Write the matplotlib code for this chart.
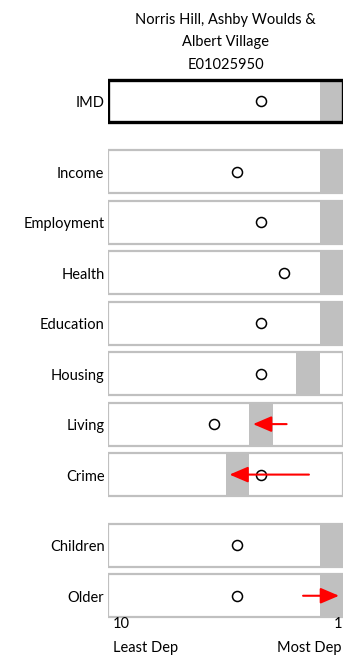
import numpy as np
import matplotlib
matplotlib.use("Agg")
import matplotlib.pyplot as plt
from matplotlib.patches import Rectangle

plt.rcParams['font.family'] = ['Lato', 'DejaVu Sans']

title = "Norris Hill, Ashby Woulds &\nAlbert Village\nE01025950"

# domains, grouped: overall index, the seven domains, then the two supplementary indices
groups = [
    ['IMD'],
    ['Income', 'Employment', 'Health', 'Education', 'Housing', 'Living', 'Crime'],
    ['Children', 'Older'],
]
# decile of the area (1 = most deprived)
area_decile = [1, 1, 1, 1, 1, 2, 4, 5, 1, 1]
# district average decile (circles)
district_decile = [4, 5, 4, 3, 4, 4, 6, 4, 5, 5]
# movement since previous release: domain -> decile it moved from
moved_from = {'Living': 2.9, 'Crime': 1.95, 'Older': 2.2}

labels = [name for g in groups for name in g]
row_y = []
y = 0.0
for gi, g in enumerate(groups):
    if gi > 0:
        y += 0.4
    for name in g:
        row_y.append(y)
        y += 1.0
row_y = np.array(row_y)

fig = plt.figure(figsize=(3.56, 6.6), dpi=100)
ax = fig.add_axes([0.3034, 0.0591, 0.6601, 0.8261])
ax.set_xlim(10.5, 0.5)
ax.set_ylim(row_y[-1] + 0.5, -0.5)
ax.axis('off')

box_h = 0.85
grey = '#c0c0c0'
for i, name in enumerate(labels):
    yc = row_y[i]
    d = area_decile[i]
    ax.add_patch(Rectangle((d - 0.5, yc - box_h / 2), 1, box_h,
                           facecolor=grey, edgecolor='none', zorder=1))
    if name == 'IMD':
        ax.add_patch(Rectangle((0.5, yc - box_h / 2), 10, box_h, fill=False,
                               edgecolor='black', lw=2.4, zorder=3))
    else:
        ax.add_patch(Rectangle((0.5, yc - box_h / 2), 10, box_h, fill=False,
                               edgecolor=grey, lw=1.6, zorder=3))
    ax.text(10.65, yc + 0.04, name, ha='right', va='center', fontsize=10.5,
            clip_on=False)
    if name in moved_from:
        start = moved_from[name]
        step = np.sign(d - start)
        tip = d + step * 0.33
        ax.annotate('', xy=(tip, yc), xytext=(start, yc),
                    arrowprops=dict(arrowstyle='-|>,head_length=0.75,head_width=0.32',
                                    color='red', lw=1.5, mutation_scale=15,
                                    shrinkA=0, shrinkB=0),
                    zorder=5)

ax.scatter(district_decile, row_y, s=52, facecolor='white', edgecolor='black',
           linewidth=1.1, zorder=4)

ax.text(5.5, -0.58, title, ha='center', va='bottom', fontsize=10.5,
        linespacing=1.75, transform=ax.transData)
ax.text(10.3, row_y[-1] + 0.42, '10', ha='left', va='top', fontsize=10.5)
ax.text(0.55, row_y[-1] + 0.42, '1', ha='right', va='top', fontsize=10.5)
ax.text(10.3, row_y[-1] + 0.9, 'Least Dep', ha='left', va='top', fontsize=10.5)
ax.text(0.55, row_y[-1] + 0.9, 'Most Dep', ha='right', va='top', fontsize=10.5)

fig.savefig('out.png', dpi=100)
